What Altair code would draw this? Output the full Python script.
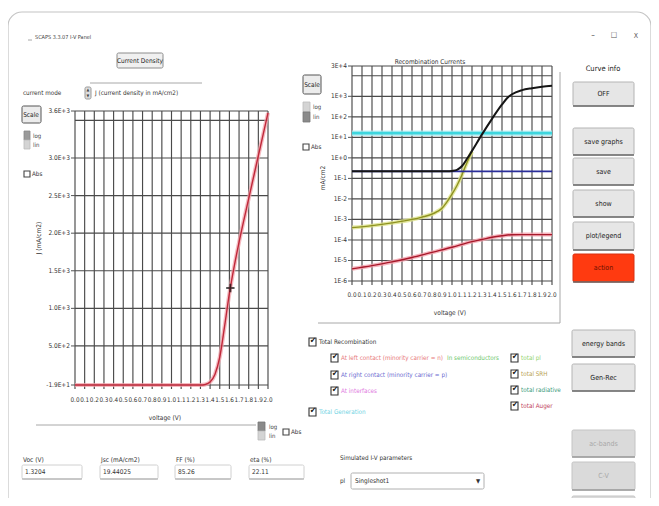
import altair as alt
import pandas as pd

FONT = "Liberation Sans Narrow, DejaVu Sans Condensed, Arial Narrow, Liberation Sans, sans-serif"

# ---------------- values ----------------
# left panel: J-V curve
jv_voltage = [0.0, 0.1, 0.2, 0.3, 0.4, 0.5, 0.6, 0.7, 0.8, 0.9, 1.0, 1.1, 1.2,
              1.3, 1.35, 1.4, 1.45, 1.5, 1.55, 1.6, 1.65, 1.7, 1.8, 1.9, 2.0]
jv_current = [-19.4, -19.4, -19.4, -19.4, -19.4, -19.4, -19.4, -19.4, -19.4, -19.4, -19.4, -19.4, -19.4,
              -19.0, -12.0, 20.0, 120.0, 350.0, 760.0, 1200.0, 1560.0, 1880.0, 2460.0, 3030.0, 3600.0]
cursor_voltage = [1.61]
cursor_current = [1270.0]

voltage_ticks = [0.0, 0.1, 0.2, 0.3, 0.4, 0.5, 0.6, 0.7, 0.8, 0.9, 1.0,
                 1.1, 1.2, 1.3, 1.4, 1.5, 1.6, 1.7, 1.8, 1.9, 2.0]
voltage_labels = ["0.0", "0.1", "0.2", "0.3", "0.4", "0.5", "0.6", "0.7", "0.8", "0.9", "1.0",
                  "1.1", "1.2", "1.3", "1.4", "1.5", "1.6", "1.7", "1.8", "1.9", "2.0"]
j_grid = [-19.4, 500, 1000, 1500, 2000, 2500, 3000, 3500, 3625]
j_tick_values = [3625, 3000, 2500, 2000, 1500, 1000, 500, -19.4]
j_tick_labels = ["3.6E+3", "3.0E+3", "2.5E+3", "2.0E+3", "1.5E+3", "1.0E+3", "5.0E+2", "-1.9E+1"]

# right panel: recombination currents (mA/cm2, log scale)
rec_grid = [1e-6, 1e-5, 1e-4, 1e-3, 1e-2, 1e-1, 1, 10, 100, 1000, 1e4, 3e4]
rec_tick_values = [3e4, 1e3, 1e2, 1e1, 1, 1e-1, 1e-2, 1e-3, 1e-4, 1e-5, 1e-6]
rec_tick_labels = ["3E+4", "1E+3", "1E+2", "1E+1", "1E+0", "1E-1", "1E-2", "1E-3", "1E-4", "1E-5", "1E-6"]

generation_v = [0.0, 2.0]
generation_i = [16.0, 16.0]
auger_v = [0.0, 0.2, 0.4, 0.6, 0.8, 1.0, 1.2, 1.3, 1.4, 1.5, 1.6, 1.7, 2.0]
auger_i = [3.9e-6, 5.6e-6, 8.5e-6, 1.4e-5, 2.5e-5, 4.4e-5, 8.3e-5, 1.05e-4, 1.35e-4, 1.6e-4, 1.8e-4, 1.82e-4, 1.82e-4]
srh_v = [0.0, 0.2, 0.4, 0.6, 0.7, 0.8, 0.85, 0.9, 0.95, 1.0, 1.05, 1.1, 1.15, 1.2]
srh_i = [4.0e-4, 5.0e-4, 6.8e-4, 1.0e-3, 1.3e-3, 1.8e-3, 2.4e-3, 3.5e-3, 7.2e-3, 1.7e-2, 4.5e-2, 0.15, 0.6, 2.0]
right_contact_v = [0.0, 2.0]
right_contact_i = [0.22, 0.22]
total_rec_v = [0.0, 0.5, 0.95, 1.0, 1.05, 1.1, 1.15, 1.2, 1.3, 1.4, 1.5, 1.55, 1.6, 1.7, 1.8, 1.9, 2.0]
total_rec_i = [0.22, 0.22, 0.22, 0.23, 0.26, 0.4, 0.9, 2.2, 14, 80, 400, 800, 1260, 2000, 2500, 2950, 3300]

# UI text
param_names = ["Voc (V)", "Jsc (mA/cm2)", "FF (%)", "eta (%)"]
param_values = ["1.3204", "19.44025", "85.26", "22.11"]
buttons_main = ["OFF", "save graphs", "save", "show", "plot/legend", "action", "energy bands", "Gen-Rec"]
buttons_off = ["ac-bands", "C-V", ""]
legend_left = ["Total Recombination", "At left contact (minority carrier = n)",
               "At right contact (minority carrier = p)", "At interfaces", "Total Generation"]
legend_left_colors = ["#333333", "#e8787a", "#6a6ad0", "#e078e0", "#6fd3e3"]
legend_right = ["total pl", "total SRH", "total radiative", "total Auger"]
legend_right_colors = ["#8fd46e", "#b8a050", "#3a9a7a", "#c0405a"]

# ---------------- layout (page pixels) ----------------
W, H = 643, 490
PX = alt.Scale(domain=[8, 8 + W], range=[0, W], nice=False, zero=False)
PY = alt.Scale(domain=[8, 8 + H], range=[0, H], nice=False, zero=False)
LX = alt.Scale(domain=[0, 2], range=[67, 260], nice=False, zero=False)
LY = alt.Scale(domain=[-19.4, 3625], range=[377, 103], nice=False, zero=False)
RX = alt.Scale(domain=[0, 2], range=[344, 544], nice=False, zero=False)
RY = alt.Scale(type="log", domain=[1e-6, 3e4], range=[273, 58], nice=False)
GRID = "#4a4a4a"
GW = 1.15


def texts(rows, align="left", angle=0, weight="normal"):
    df = pd.DataFrame(rows, columns=["x", "y", "t", "c", "s"])
    return alt.Chart(df).mark_text(align=align, baseline="middle", font=FONT, angle=angle,
                                   fontWeight=weight).encode(
        x=alt.X("x:Q", scale=PX, axis=None), y=alt.Y("y:Q", scale=PY, axis=None),
        text="t:N", color=alt.Color("c:N", scale=None), size=alt.Size("s:Q", scale=None))


def rects(rows, **kw):
    df = pd.DataFrame(rows, columns=["x0", "x1", "y0", "y1", "f", "s"])
    return alt.Chart(df).mark_rect(**kw).encode(
        x=alt.X("x0:Q", scale=PX, axis=None), x2="x1:Q",
        y=alt.Y("y0:Q", scale=PY, axis=None), y2="y1:Q",
        fill=alt.Fill("f:N", scale=None), stroke=alt.Stroke("s:N", scale=None))


def rules(rows, color, width=1.0):
    df = pd.DataFrame(rows, columns=["x0", "x1", "y0", "y1"])
    return alt.Chart(df).mark_rule(color=color, strokeWidth=width).encode(
        x=alt.X("x0:Q", scale=PX, axis=None), x2="x1:Q",
        y=alt.Y("y0:Q", scale=PY, axis=None), y2="y1:Q")


layers = []

# window frame
frame = pd.DataFrame({"x0": [8], "x1": [651], "y0": [12], "y1": [530]})
layers.append(alt.Chart(frame).mark_rect(filled=False, stroke="#c4c4c4", strokeWidth=1.2, cornerRadius=14).encode(
    x=alt.X("x0:Q", scale=PX, axis=None), x2="x1:Q", y=alt.Y("y0:Q", scale=PY, axis=None), y2="y1:Q"))

# ---------- left panel grid ----------
vt = pd.DataFrame({"v": voltage_ticks, "lab": voltage_labels})
layers.append(alt.Chart(vt).mark_rule(color=GRID, strokeWidth=GW).encode(
    x=alt.X("v:Q", scale=LX, axis=None),
    y=alt.Y(datum=3625, scale=LY, axis=None), y2=alt.value(381)))
jg = pd.DataFrame({"j": j_grid})
layers.append(alt.Chart(jg).mark_rule(color=GRID, strokeWidth=GW).encode(
    y=alt.Y("j:Q", scale=LY, axis=None),
    x=alt.X(datum=0, scale=LX, axis=None), x2=alt.X2(datum=2)))
jt = pd.DataFrame({"j": j_tick_values, "lab": j_tick_labels})
layers.append(alt.Chart(jt).mark_text(align="right", baseline="middle", font=FONT, fontSize=6.5,
                                      color="#333", dx=-5).encode(
    y=alt.Y("j:Q", scale=LY, axis=None), x=alt.X(datum=0, scale=LX, axis=None), text="lab:N"))
layers.append(alt.Chart(jt).mark_rule(color="#555", strokeWidth=1).encode(
    y=alt.Y("j:Q", scale=LY, axis=None), x=alt.value(63), x2=alt.value(67)))
layers.append(alt.Chart(vt).mark_text(align="center", baseline="middle", font=FONT, fontSize=6.3,
                                      color="#333").encode(
    x=alt.X("v:Q", scale=LX, axis=None), y=alt.value(392), text="lab:N"))

# J-V curve
jv = pd.DataFrame({"V": jv_voltage, "J": jv_current})
layers.append(alt.Chart(jv).mark_line(color="#f2a3ab", strokeWidth=4, opacity=0.75, interpolate="monotone").encode(
    x=alt.X("V:Q", scale=LX, axis=None), y=alt.Y("J:Q", scale=LY, axis=None)))
layers.append(alt.Chart(jv).mark_line(color="#c0283a", strokeWidth=1.4, interpolate="monotone").encode(
    x=alt.X("V:Q", scale=LX, axis=None), y=alt.Y("J:Q", scale=LY, axis=None)))
cur = pd.DataFrame({"V": cursor_voltage, "J": cursor_current})
layers.append(alt.Chart(cur).mark_point(shape="M-1,0L1,0M0,-1L0,1", size=70, stroke="#111",
                                        strokeWidth=2, filled=False).encode(
    x=alt.X("V:Q", scale=LX, axis=None), y=alt.Y("J:Q", scale=LY, axis=None)))

# ---------- right panel grid ----------
layers.append(alt.Chart(vt).mark_rule(color=GRID, strokeWidth=GW).encode(
    x=alt.X("v:Q", scale=RX, axis=None),
    y=alt.Y(datum=3e4, scale=RY, axis=None), y2=alt.value(277)))
rg = pd.DataFrame({"i": rec_grid})
layers.append(alt.Chart(rg).mark_rule(color=GRID, strokeWidth=GW).encode(
    y=alt.Y("i:Q", scale=RY, axis=None),
    x=alt.X(datum=0, scale=RX, axis=None), x2=alt.X2(datum=2)))
rt = pd.DataFrame({"i": rec_tick_values, "lab": rec_tick_labels})
layers.append(alt.Chart(rt).mark_text(align="right", baseline="middle", font=FONT, fontSize=6.5,
                                      color="#333", dx=-5).encode(
    y=alt.Y("i:Q", scale=RY, axis=None), x=alt.X(datum=0, scale=RX, axis=None), text="lab:N"))
layers.append(alt.Chart(rt).mark_rule(color="#555", strokeWidth=1).encode(
    y=alt.Y("i:Q", scale=RY, axis=None), x=alt.value(340), x2=alt.value(344)))
layers.append(alt.Chart(vt).mark_text(align="center", baseline="middle", font=FONT, fontSize=6.3,
                                      color="#333").encode(
    x=alt.X("v:Q", scale=RX, axis=None), y=alt.value(287), text="lab:N"))

series = [
    (generation_v, generation_i, "#3ed6de", 2.6, "#aeeef2", 5.5),
    (auger_v, auger_i, "#a8182a", 1.4, "#f3a0ab", 4.0),
    (srh_v, srh_i, "#8e9220", 1.4, "#dde28a", 4.0),
    (right_contact_v, right_contact_i, "#2b2f9a", 1.6, None, 0),
    (total_rec_v, total_rec_i, "#151515", 2.0, None, 0),
]
for vv, ii, core, cw, halo, hw in series:
    d = pd.DataFrame({"V": vv, "I": ii})
    if halo:
        layers.append(alt.Chart(d).mark_line(color=halo, strokeWidth=hw, opacity=0.8,
                                             interpolate="monotone").encode(
            x=alt.X("V:Q", scale=RX, axis=None), y=alt.Y("I:Q", scale=RY, axis=None)))
    layers.append(alt.Chart(d).mark_line(color=core, strokeWidth=cw, interpolate="monotone").encode(
        x=alt.X("V:Q", scale=RX, axis=None), y=alt.Y("I:Q", scale=RY, axis=None)))

# ---------- UI boxes ----------
btn_rows = [(573, 634, 82, 106), (573, 634, 128, 155), (573, 634, 158, 185), (573, 634, 190, 217),
            (573, 634, 222, 250), (573, 634, 254, 282), (572, 635, 330, 357), (572, 635, 364, 391)]
off_rows = [(572, 635, 430, 457), (572, 635, 462, 490), (572, 635, 496, 520)]
box_rows = []
for (x0, x1, y0, y1), lab in zip(btn_rows, buttons_main):
    box_rows.append((x0, x1, y0, y1, "#ff3a10" if lab == "action" else "#e6e6e6",
                     "#d83010" if lab == "action" else "#b4b4b4"))
for (x0, x1, y0, y1) in off_rows:
    box_rows.append((x0, x1, y0, y1, "#dadada", "#c4c4c4"))
box_rows += [
    (117, 163, 53, 68, "#f0f0f0", "#8c8c8c"),
    (22, 41, 106, 123, "#ececec", "#555555"),
    (303, 321, 75, 94, "#ececec", "#555555"),
    (85, 91, 87, 99, "#dddddd", "#999999"),
    (22, 82, 465, 479, "#ffffff", "#d0d0d0"), (100, 158, 465, 479, "#ffffff", "#d0d0d0"),
    (175, 231, 465, 479, "#ffffff", "#d0d0d0"), (249, 304, 465, 479, "#ffffff", "#d0d0d0"),
    (351, 484, 473, 489, "#ffffff", "#b0b0b0"),
]
layers.append(rects(box_rows, cornerRadius=1.5, strokeWidth=1))
# log/lin switches
switch_rows = [
    (24, 30, 131, 140, "#9a9a9a", "#888888"), (24, 30, 140, 149, "#d4d4d4", "#bbbbbb"),
    (303, 310, 102, 112, "#d4d4d4", "#bbbbbb"), (303, 310, 112, 122, "#8a8a8a", "#777777"),
    (258, 265, 422, 431, "#8a8a8a", "#777777"), (258, 265, 431, 440, "#d4d4d4", "#bbbbbb"),
]
layers.append(rects(switch_rows, strokeWidth=0.8))
shadow = [(x0, x1, y1, y1) for (x0, x1, y0, y1) in btn_rows]
layers.append(rules(shadow, "#6a6a6a", 1.6))
layers.append(rules([(x0, x1, y1, y1) for (x0, x1, y0, y1) in off_rows], "#9a9a9a", 1.4))

# separator lines
layers.append(rules([(90, 202, 83, 83), (36, 256, 425, 425), (318, 560, 323, 323), (560, 560, 72, 323),
                     (22, 82, 479, 479), (100, 158, 479, 479), (175, 231, 479, 479), (249, 304, 479, 479),
                     (28, 32, 40, 40)], "#a8a8a8", 1))

# checkboxes
cb_left = [(309, 342), (331, 358), (331, 375), (331, 391), (309, 412)]
cb_right = [(511, 358), (511, 374), (511, 390), (511, 406)]
cb_plain = [(24, 174), (303, 147), (283, 432)]
cbox = [(x, x + 7, y - 4, y + 4, "#ffffff", "#333333") for (x, y) in cb_left + cb_right]
cbox += [(x, x + 6, y - 3, y + 3, "#ffffff", "#444444") for (x, y) in cb_plain]
layers.append(rects(cbox, strokeWidth=1.1))
layers.append(texts([(x + 4, y - 1, "✔", "#111111", 8) for (x, y) in cb_left + cb_right], align="center",
                    weight="bold"))

# ---------- UI texts ----------
left_txt = [
    (35, 37, "SCAPS 3.3.07 I-V Panel", "#444444", 5.5),
    (23, 93, "current mode", "#333333", 6.3),
    (95, 93, "J (current density in mA/cm2)", "#333333", 6.3),
    (33, 136, "log", "#444444", 6), (33, 145, "lin", "#444444", 6),
    (32, 174, "Abs", "#333333", 6.3),
    (313, 107, "log", "#444444", 6), (313, 117, "lin", "#444444", 6),
    (311, 147, "Abs", "#333333", 6.3),
    (269, 427, "log", "#444444", 6), (269, 436, "lin", "#444444", 6),
    (291, 432, "Abs", "#333333", 6.3),
    (447, 358, "In semiconductors", "#6cc86c", 6.3),
    (340, 458, "Simulated I-V parameters", "#333333", 6.3),
    (340, 481, "pl", "#333333", 6.3),
    (355, 481, "Singleshot1", "#333333", 6.5),
]
left_txt += [(x + 10, y, t, c, 6.3) for (x, y), t, c in zip(cb_left, legend_left, legend_left_colors)]
left_txt += [(x + 10, y, t, c, 6.3) for (x, y), t, c in zip(cb_right, legend_right, legend_right_colors)]
for x, name, val in zip([23, 101, 176, 250], param_names, param_values):
    left_txt += [(x, 460, name, "#333333", 6.5), (x + 2, 472, val, "#333333", 6.5)]
layers.append(texts(left_txt))

center_txt = [
    (140, 61, "Current Density", "#222222", 6.5),
    (430, 62, "Recombination Currents", "#333333", 6.5),
    (31, 115, "Scale", "#222222", 6.5),
    (312, 85, "Scale", "#222222", 6.5),
    (165, 418, "voltage (V)", "#333333", 6.5),
    (450, 313, "voltage (V)", "#333333", 6.5),
    (603, 69, "Curve info", "#222222", 7.5),
    (593, 36, "–", "#555555", 8), (614, 36, "☐", "#555555", 8), (636, 36, "X", "#555555", 7),
    (478, 481, "▼", "#333333", 6),
    (88, 90, "▲", "#444444", 4), (88, 96, "▼", "#444444", 4),
]
for (x0, x1, y0, y1), lab in zip(btn_rows, buttons_main):
    center_txt.append(((x0 + x1) / 2, (y0 + y1) / 2, lab, "#6a1000" if lab == "action" else "#222222", 7))
for (x0, x1, y0, y1), lab in zip(off_rows, buttons_off):
    center_txt.append(((x0 + x1) / 2, (y0 + y1) / 2, lab, "#a8a8a8", 7))
layers.append(texts(center_txt, align="center"))

layers.append(texts([(39, 238, "J (mA/cm2)", "#333333", 6.5), (323, 178, "mA/cm2", "#333333", 6.5)],
                    align="center", angle=270))

chart = alt.layer(*layers).resolve_scale(x="independent", y="independent").properties(
    width=W, height=H, padding=0, autosize="none", background="white"
).configure_view(strokeWidth=0)

chart.save("out.html", embed_options={"renderer": "svg", "actions": False})
